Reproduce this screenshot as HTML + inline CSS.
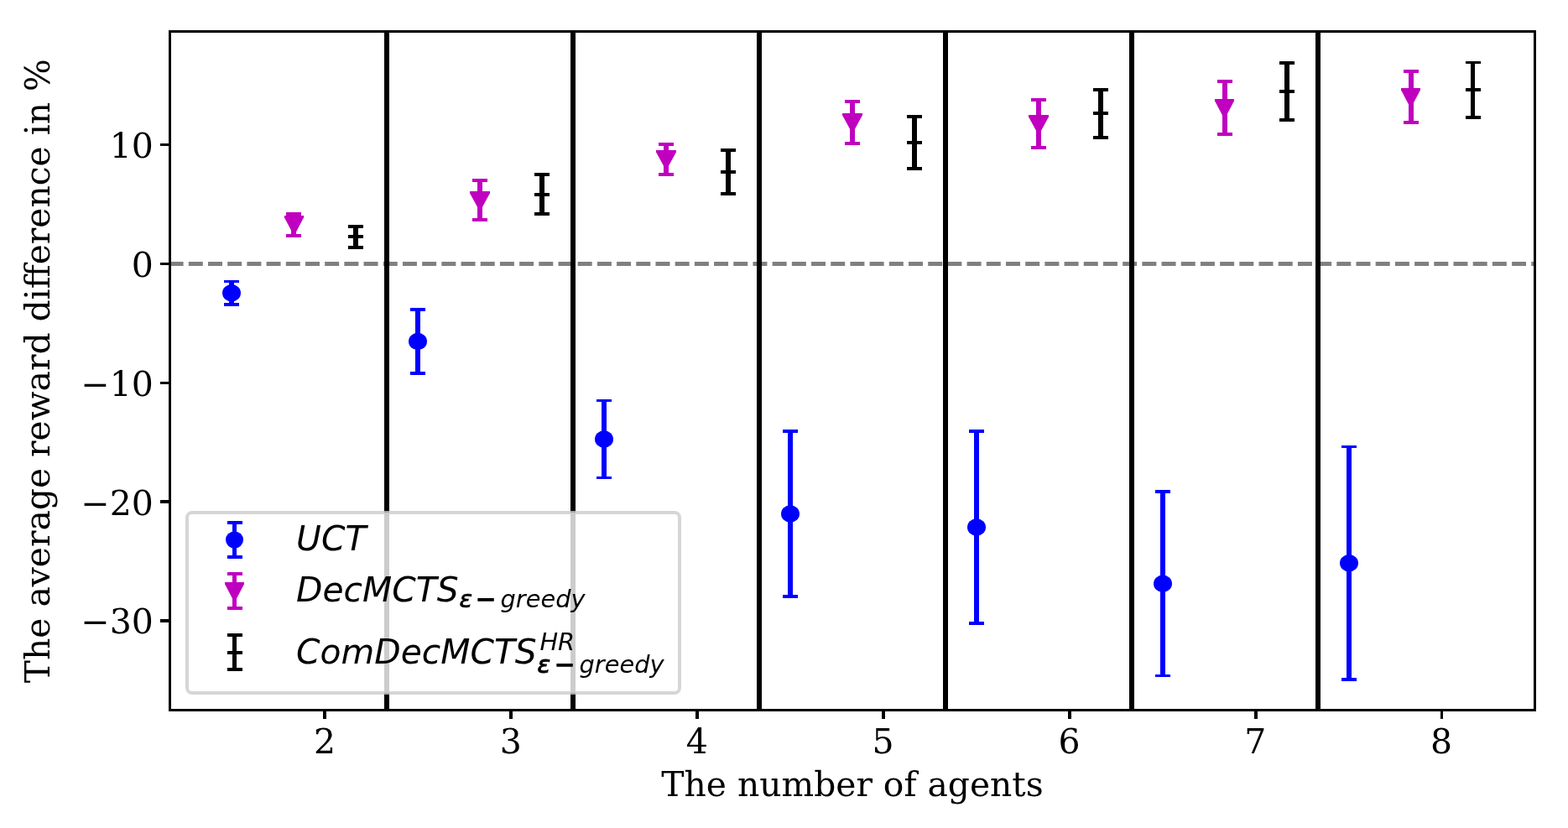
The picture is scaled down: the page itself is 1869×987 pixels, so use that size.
<!DOCTYPE html>
<html lang="en">
<head>
<meta charset="utf-8">
<title>Average reward difference vs. number of agents</title>
<style>
html, body { margin: 0; padding: 0; background: #ffffff; }
body { width: 1869px; height: 987px; overflow: hidden; }
svg { display: block; }
</style>
</head>
<body>
<svg width="1869" height="987" viewBox="0 0 1869 987" role="img" aria-label="Error-bar chart: the average reward difference in percent against the number of agents">
<rect x="0" y="0" width="1869" height="987" fill="#ffffff"/>
<g id="plot">
<line x1="201.6" y1="314.5" x2="1829.5" y2="314.5" stroke="#808080" stroke-width="5" stroke-dasharray="17 6.195"/>
<g fill="#0000ff">
<rect x="273" y="334" width="6" height="31"/>
<rect x="267" y="334" width="18" height="3"/>
<rect x="267" y="361" width="18" height="4"/>
<ellipse cx="276" cy="349.25" rx="11" ry="10.2"/>
</g>
<g fill="#bf00bf">
<rect x="347" y="253" width="6" height="30"/>
<rect x="341" y="253" width="18" height="4"/>
<rect x="341" y="279" width="18" height="4"/>
<polygon points="339,257 362,257 362,259.2 350.5,281.2 339,259.2"/>
</g>
<g fill="#000000">
<rect x="421" y="268" width="6" height="29"/>
<rect x="415" y="268" width="18" height="4"/>
<rect x="415" y="280" width="18" height="4"/>
<rect x="415" y="293" width="18" height="4"/>
</g>
<g fill="#0000ff">
<rect x="495" y="367" width="6" height="80"/>
<rect x="489" y="367" width="18" height="4"/>
<rect x="489" y="443" width="18" height="4"/>
<ellipse cx="498" cy="407" rx="11" ry="10.2"/>
</g>
<g fill="#bf00bf">
<rect x="569" y="213" width="6" height="51"/>
<rect x="563" y="213" width="18" height="4"/>
<rect x="563" y="260" width="18" height="4"/>
<polygon points="560,228 584,228 584,230.2 572,252.2 560,230.2"/>
</g>
<g fill="#000000">
<rect x="643" y="206" width="6" height="51"/>
<rect x="637" y="206" width="18" height="4"/>
<rect x="637" y="230" width="18" height="4"/>
<rect x="637" y="253" width="18" height="4"/>
</g>
<g fill="#0000ff">
<rect x="717" y="476" width="6" height="95"/>
<rect x="711" y="476" width="18" height="3"/>
<rect x="711" y="568" width="18" height="3"/>
<ellipse cx="720" cy="523.5" rx="11" ry="10.2"/>
</g>
<g fill="#bf00bf">
<rect x="791" y="170" width="6" height="40"/>
<rect x="785" y="170" width="18" height="4"/>
<rect x="785" y="206" width="18" height="4"/>
<polygon points="782,179 806,179 806,181.2 794,203.2 782,181.2"/>
</g>
<g fill="#000000">
<rect x="865" y="177" width="6" height="56"/>
<rect x="859" y="177" width="18" height="4"/>
<rect x="859" y="203" width="18" height="4"/>
<rect x="859" y="229" width="18" height="4"/>
</g>
<g fill="#0000ff">
<rect x="939" y="512" width="6" height="201"/>
<rect x="933" y="512" width="18" height="4"/>
<rect x="933" y="709" width="18" height="4"/>
<ellipse cx="942" cy="612.5" rx="11" ry="10.2"/>
</g>
<g fill="#bf00bf">
<rect x="1013" y="119" width="6" height="54"/>
<rect x="1007" y="119" width="18" height="4"/>
<rect x="1007" y="169" width="18" height="4"/>
<polygon points="1004,135 1028,135 1028,137.2 1016,159.2 1004,137.2"/>
</g>
<g fill="#000000">
<rect x="1087" y="137" width="6" height="66"/>
<rect x="1081" y="137" width="18" height="4"/>
<rect x="1081" y="168" width="18" height="4"/>
<rect x="1081" y="199" width="18" height="4"/>
</g>
<g fill="#0000ff">
<rect x="1161" y="512" width="6" height="233"/>
<rect x="1155" y="512" width="18" height="4"/>
<rect x="1155" y="741" width="18" height="4"/>
<ellipse cx="1164" cy="628.5" rx="11" ry="10.2"/>
</g>
<g fill="#bf00bf">
<rect x="1235" y="117" width="6" height="61"/>
<rect x="1229" y="117" width="18" height="4"/>
<rect x="1229" y="174" width="18" height="4"/>
<polygon points="1226,137 1250,137 1250,139.2 1238,161.2 1226,139.2"/>
</g>
<g fill="#000000">
<rect x="1309" y="105" width="6" height="61"/>
<rect x="1303" y="105" width="18" height="4"/>
<rect x="1303" y="133" width="18" height="4"/>
<rect x="1303" y="162" width="18" height="4"/>
</g>
<g fill="#0000ff">
<rect x="1383" y="584" width="6" height="223"/>
<rect x="1377" y="584" width="18" height="4"/>
<rect x="1377" y="804" width="18" height="3"/>
<ellipse cx="1386" cy="695.75" rx="11" ry="10.2"/>
</g>
<g fill="#bf00bf">
<rect x="1457" y="95" width="6" height="67"/>
<rect x="1451" y="95" width="18" height="4"/>
<rect x="1451" y="158" width="18" height="4"/>
<polygon points="1448,118 1471,118 1471,120.2 1459.5,142.2 1448,120.2"/>
</g>
<g fill="#000000">
<rect x="1531" y="73" width="6" height="72"/>
<rect x="1525" y="73" width="18" height="4"/>
<rect x="1525" y="107" width="18" height="4"/>
<rect x="1525" y="141" width="18" height="4"/>
</g>
<g fill="#0000ff">
<rect x="1605" y="531" width="6" height="281"/>
<rect x="1599" y="531" width="18" height="3"/>
<rect x="1599" y="808" width="18" height="4"/>
<ellipse cx="1608" cy="671.25" rx="11" ry="10.2"/>
</g>
<g fill="#bf00bf">
<rect x="1679" y="83" width="6" height="65"/>
<rect x="1673" y="83" width="18" height="4"/>
<rect x="1673" y="144" width="18" height="4"/>
<polygon points="1670,105 1693,105 1693,107.2 1681.5,129.2 1670,107.2"/>
</g>
<g fill="#000000">
<rect x="1753" y="73" width="5" height="69"/>
<rect x="1747" y="73" width="18" height="3"/>
<rect x="1747" y="105" width="18" height="4"/>
<rect x="1747" y="138" width="18" height="4"/>
</g>
<rect x="458" y="37.5" width="6" height="809" fill="#000000"/>
<rect x="680" y="37.5" width="6" height="809" fill="#000000"/>
<rect x="902" y="37.5" width="6" height="809" fill="#000000"/>
<rect x="1124" y="37.5" width="6" height="809" fill="#000000"/>
<rect x="1346" y="37.5" width="6" height="809" fill="#000000"/>
<rect x="1568" y="37.5" width="6" height="809" fill="#000000"/>
</g>
<g id="ticks" fill="#000000">
<rect x="385" y="846" width="4" height="11"/>
<rect x="607" y="846" width="4" height="11"/>
<rect x="829" y="846" width="4" height="11"/>
<rect x="1051" y="846" width="4" height="11"/>
<rect x="1273" y="846" width="4" height="11"/>
<rect x="1495" y="846" width="4" height="11"/>
<rect x="1717" y="846" width="3" height="11"/>
<rect x="191" y="171" width="11" height="3"/>
<rect x="191" y="313" width="11" height="3"/>
<rect x="191" y="455" width="11" height="3"/>
<rect x="191" y="596" width="11" height="4"/>
<rect x="191" y="738" width="11" height="4"/>
</g>
<g id="spines" fill="#000000">
<rect x="201" y="36" width="3" height="812"/>
<rect x="1828" y="36" width="3" height="812"/>
<rect x="201" y="36" width="1630" height="3"/>
<rect x="201" y="845" width="1630" height="3"/>
</g>
<g id="ticklabels" font-family="'DejaVu Serif', 'Liberation Serif', serif" font-size="41" fill="#000000">
<text x="387" y="898" text-anchor="middle">2</text>
<text x="608.86" y="898" text-anchor="middle">3</text>
<text x="830.72" y="898" text-anchor="middle">4</text>
<text x="1052.58" y="898" text-anchor="middle">5</text>
<text x="1274.44" y="898" text-anchor="middle">6</text>
<text x="1496.3" y="898" text-anchor="middle">7</text>
<text x="1718.16" y="898" text-anchor="middle">8</text>
<text x="182.9" y="188" text-anchor="end">10</text>
<text x="182.9" y="330" text-anchor="end">0</text>
<text x="182.9" y="472" text-anchor="end">−10</text>
<text x="182.9" y="614" text-anchor="end">−20</text>
<text x="182.9" y="754.6" text-anchor="end">−30</text>
</g>
<g id="axislabels" font-family="'DejaVu Serif', 'Liberation Serif', serif" font-size="40.8" fill="#000000">
<text x="1016" y="949" text-anchor="middle">The number of agents</text>
<text transform="translate(59.4 442.2) rotate(-90)" text-anchor="middle">The average reward difference in %</text>
</g>
<g id="legend">
<rect x="223" y="611" width="587" height="215" rx="6" ry="6" fill="#ffffff" fill-opacity="0.8" stroke="#cccccc" stroke-opacity="0.8" stroke-width="4"/>
<g fill="#0000ff">
<rect x="277" y="621" width="5" height="45"/>
<rect x="271" y="621" width="18" height="4"/>
<rect x="271" y="662" width="18" height="4"/>
<ellipse cx="279.5" cy="643.5" rx="10.5" ry="10.1"/>
</g>
<g fill="#bf00bf">
<rect x="277" y="682" width="5" height="45"/>
<rect x="271" y="682" width="18" height="4"/>
<rect x="271" y="723" width="18" height="4"/>
<polygon points="268,694 291,694 291,696.2 279.5,718.2 268,696.2"/>
</g>
<g fill="#000000">
<rect x="277" y="755" width="5" height="45"/>
<rect x="271" y="755" width="18" height="4"/>
<rect x="271" y="776" width="18" height="4"/>
<rect x="271" y="796" width="18" height="4"/>
</g>
<g font-family="'DejaVu Sans', 'Liberation Sans', sans-serif" font-style="italic" font-size="40.8" fill="#000000">
<text x="353.1" y="655.6">UCT</text>
<text x="353.1" y="716.6">DecMCTS<tspan x="547.6" y="724.4" font-size="28.8" stroke="#000000" stroke-width="0.7" stroke-linejoin="miter">ε</tspan><tspan x="567" y="724.4" font-size="28.8" font-style="normal" stroke="#000000" stroke-width="1.4" stroke-linejoin="miter">−</tspan><tspan x="596.6" y="724.4" font-size="28.8">greedy</tspan></text>
<text x="353.1" y="790.8">ComDecMCTS<tspan x="643.4" y="775.2" font-size="28.8">HR</tspan><tspan x="640.6" y="802" font-size="28.8" stroke="#000000" stroke-width="1" stroke-linejoin="miter">ε</tspan><tspan x="661" y="802" font-size="28.8" font-style="normal" stroke="#000000" stroke-width="1.4" stroke-linejoin="miter">−</tspan><tspan x="690.6" y="802" font-size="28.8">greedy</tspan></text>
</g>
</g>
</svg>
</body>
</html>
